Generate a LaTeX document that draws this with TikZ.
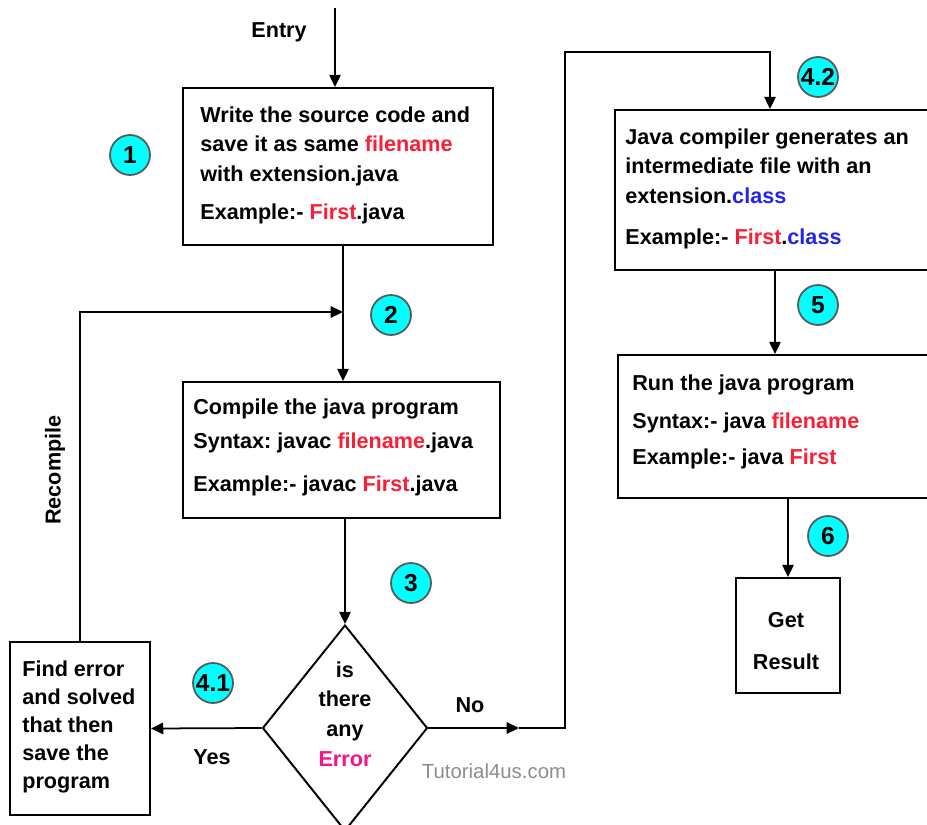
\documentclass[tikz,border=0pt]{standalone}
\usepackage{fontspec}
\setmainfont{Liberation Sans}
\usetikzlibrary{arrows.meta,shapes.geometric}
\frenchspacing

\definecolor{namered}{RGB}{250,30,55}
\definecolor{extblue}{RGB}{35,35,235}
\definecolor{errpink}{RGB}{245,20,135}
\definecolor{tagcyan}{RGB}{0,255,255}
\newcommand{\fname}[1]{\textcolor{namered}{#1}}
\newcommand{\fext}[1]{\textcolor{extblue}{#1}}

\tikzset{
  stepbox/.style={draw, line width=1.1pt, inner sep=0pt},
  steptag/.style={circle, draw=black!65, fill=tagcyan, line width=1pt,
    minimum size=0.8cm, inner sep=0pt, font=\bfseries\fontsize{14}{14}\selectfont},
  wire/.style={line width=1pt},
  flow/.style={wire, -{Triangle[width=6.5pt,length=7pt]}},
  boxtext/.style={anchor=north west, align=left, inner sep=0pt,
    font=\bfseries\fontsize{12.3}{17}\selectfont},
  flowlabel/.style={inner sep=0pt, font=\bfseries\fontsize{12.3}{17}\selectfont}
}

\begin{document}
\begin{tikzpicture}[x=0.02cm,y=-0.02cm]
            \useasboundingbox (0,0) rectangle (927,825);
            \clip (0,0) rectangle (927,825);

            % Entry into the chart
            \node [flowlabel] (entry) at (279,32) {Entry};
            \coordinate (entrytop) at (335,8);

            % Step 1: write the source
            \node [stepbox, minimum width=6.2cm, minimum height=3.14cm] (write) at (338,166.5) {};
            \node [boxtext] (writetext) at (200,106)
              {Write the source code and\\
               save it as same \fname{filename}\\
               with extension.java\\[4.5pt]
               Example:- \fname{First}.java};
            \node [steptag] (tag1) at (130,155) {1};

            % Step 2: compile
            \node [stepbox, minimum width=6.34cm, minimum height=2.72cm] (compile) at (341.5,450) {};
            \node [boxtext] (compiletext) at (193,398)
              {Compile the java program\\[2.8pt]
               Syntax: javac \fname{filename}.java\\[7.5pt]
               Example:- javac \fname{First}.java};
            \node [steptag] (tag2) at (391,315) {2};
            \coordinate (merge) at (343,312);

            % Step 3: the decision
            \node [diamond, draw, line width=1.1pt, inner sep=0pt,
                   minimum width=3.3cm, minimum height=4.12cm] (ask) at (345,728) {};
            \node [flowlabel, anchor=north, align=center] (asktext) at (345,661)
              {is\\there\\any\\\textcolor{errpink}{Error}};
            \node [steptag] (tag3) at (411,583) {3};

            % Step 4.1: fix the error
            \node [stepbox, minimum width=2.8cm, minimum height=3.46cm] (fix) at (80,728.5) {};
            \node [boxtext, font=\bfseries\fontsize{12.3}{16}\selectfont] (fixtext) at (22,660)
              {Find error\\and solved\\that then\\save the\\program};
            \node [steptag] (tag41) at (213,683) {4.1};
            \node [flowlabel] (yes) at (212,757) {Yes};
            \node [flowlabel, rotate=90] (recompile) at (55,470) {Recompile};

            % Step 4.2: class file
            \node [flowlabel] (no) at (470,705) {No};
            \coordinate (notip) at (519,728);
            \coordinate (bend) at (565,52);
            \node [stepbox, minimum width=6.4cm, minimum height=3.2cm] (classfile) at (775,190) {};
            \node [boxtext] (classtext) at (625,128)
              {Java compiler generates an\\
               intermediate file with an\\
               extension.\fext{class}\\[6pt]
               Example:- \fname{First}.\fext{class}};
            \node [steptag] (tag42) at (818,77) {4.2};

            % Step 5: run
            \node [stepbox, minimum width=6.28cm, minimum height=2.86cm] (run) at (775,426.5) {};
            \node [boxtext] (runtext) at (632,374)
              {Run the java program\\[5pt]
               Syntax:- java \fname{filename}\\[3.4pt]
               Example:- java \fname{First}};
            \node [steptag] (tag5) at (818,305) {5};

            % Step 6: result
            \node [stepbox, minimum width=2.08cm, minimum height=2.3cm] (result) at (788,635.5) {};
            \node [flowlabel, anchor=north, align=center] (resulttext) at (786,612)
              {Get\\[6.8pt]Result};
            \node [steptag] (tag6) at (828,536) {6};

            % Watermark
            \node [inner sep=0pt, text=black!45, font=\fontsize{11.6}{12}\selectfont] (mark) at (494,771) {Tutorial4us.com};

            % Drawing connectors
            \draw [flow] (entrytop) -- (entrytop |- write.north);
            \draw [wire] (write.south -| merge) -- (merge);
            \draw [flow] (merge) -- (compile.north -| merge);
            \draw [flow] (fix.north) |- (merge);
            \draw [flow] (compile.south -| ask.north) -- (ask.north);
            \draw [flow] (ask.west) -- (fix.east);
            \draw [flow] (ask.east) -- (notip);
            \draw [flow] (notip) -| (bend) -| (classfile.north -| 770,0);
            \draw [flow] (classfile.south) -- (run.north);
            \draw [flow] (run.south -| result.north) -- (result.north);
        \end{tikzpicture}
\end{document}
